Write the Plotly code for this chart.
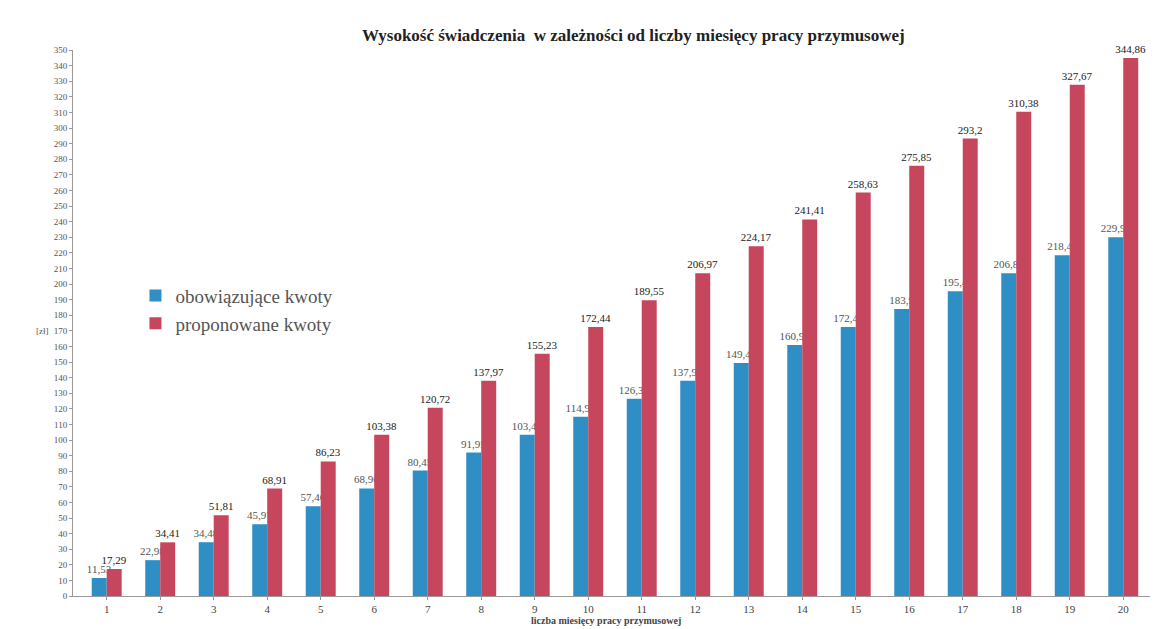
import plotly.graph_objects as go

months = list(range(1, 21))
obowiazujace = [11.53, 22.98, 34.48, 45.97, 57.46, 68.96, 80.45, 91.95, 103.44, 114.94,
                126.37, 137.93, 149.42, 160.92, 172.41, 183.9, 195.40, 206.89, 218.41, 229.91]
proponowane = [17.29, 34.41, 51.81, 68.91, 86.23, 103.38, 120.72, 137.97, 155.23, 172.44,
               189.55, 206.97, 224.17, 241.41, 258.63, 275.85, 293.2, 310.38, 327.67, 344.86]
y_ticks = list(range(0, 351, 10))

serif = "Liberation Serif, DejaVu Serif, serif"

fig = go.Figure()
fig.add_trace(go.Bar(
    x=months, y=obowiazujace, name="obowiązujące kwoty",
    marker=dict(color="#2f8fc4", line=dict(width=0)),
    texttemplate="%{y}", textposition="outside", constraintext="none",
    textfont=dict(family=serif, size=11, color="#555"), cliponaxis=False,
))
fig.add_trace(go.Bar(
    x=months, y=proponowane, name="proponowane kwoty",
    marker=dict(color="#c6475d", line=dict(width=0)),
    texttemplate="%{y}", textposition="outside", constraintext="none",
    textfont=dict(family=serif, size=11, color="#222"), cliponaxis=False,
))

fig.update_layout(
    width=1158, height=629,
    margin=dict(l=65, r=16, t=42, b=41),
    paper_bgcolor="white", plot_bgcolor="white",
    separators=", ",
    barmode="group", bargap=0.44, bargroupgap=0.0,
    title=dict(text="<b>Wysokość świadczenia  w zależności od liczby miesięcy pracy przymusowej</b>",
               x=0.54, xanchor="center", y=0.957, yanchor="middle",
               font=dict(family=serif, size=17, color="#222")),
    legend=dict(x=0.058, y=0.585, xanchor="left", yanchor="top",
                font=dict(family=serif, size=19, color="#555"),
                bgcolor="rgba(0,0,0,0)", itemwidth=30, tracegroupgap=0),
    xaxis=dict(range=[0.37, 20.5], tickvals=months, ticktext=[str(m) for m in months],
               showgrid=False, showline=True, linecolor="#999", linewidth=1,
               ticks="outside", ticklen=3, tickcolor="#999",
               tickfont=dict(family=serif, size=11, color="#444"), zeroline=False),
    yaxis=dict(range=[0, 350], tickvals=y_ticks, showgrid=False,
               showline=True, linecolor="#999", linewidth=1,
               ticks="outside", ticklen=3, tickcolor="#999",
               tickfont=dict(family=serif, size=9, color="#555"), zeroline=False),
    annotations=[
        dict(text="<b>liczba miesięcy pracy przymusowej</b>", xref="paper", yref="paper",
             x=0.495, y=-0.044, xanchor="center", yanchor="middle", showarrow=False,
             font=dict(family=serif, size=10, color="#444")),
        dict(text="[zł]", xref="paper", yref="paper", x=-0.02, y=0.485,
             xanchor="right", yanchor="middle", showarrow=False,
             font=dict(family=serif, size=9, color="#555")),
    ],
)

fig.write_html("out.html")
